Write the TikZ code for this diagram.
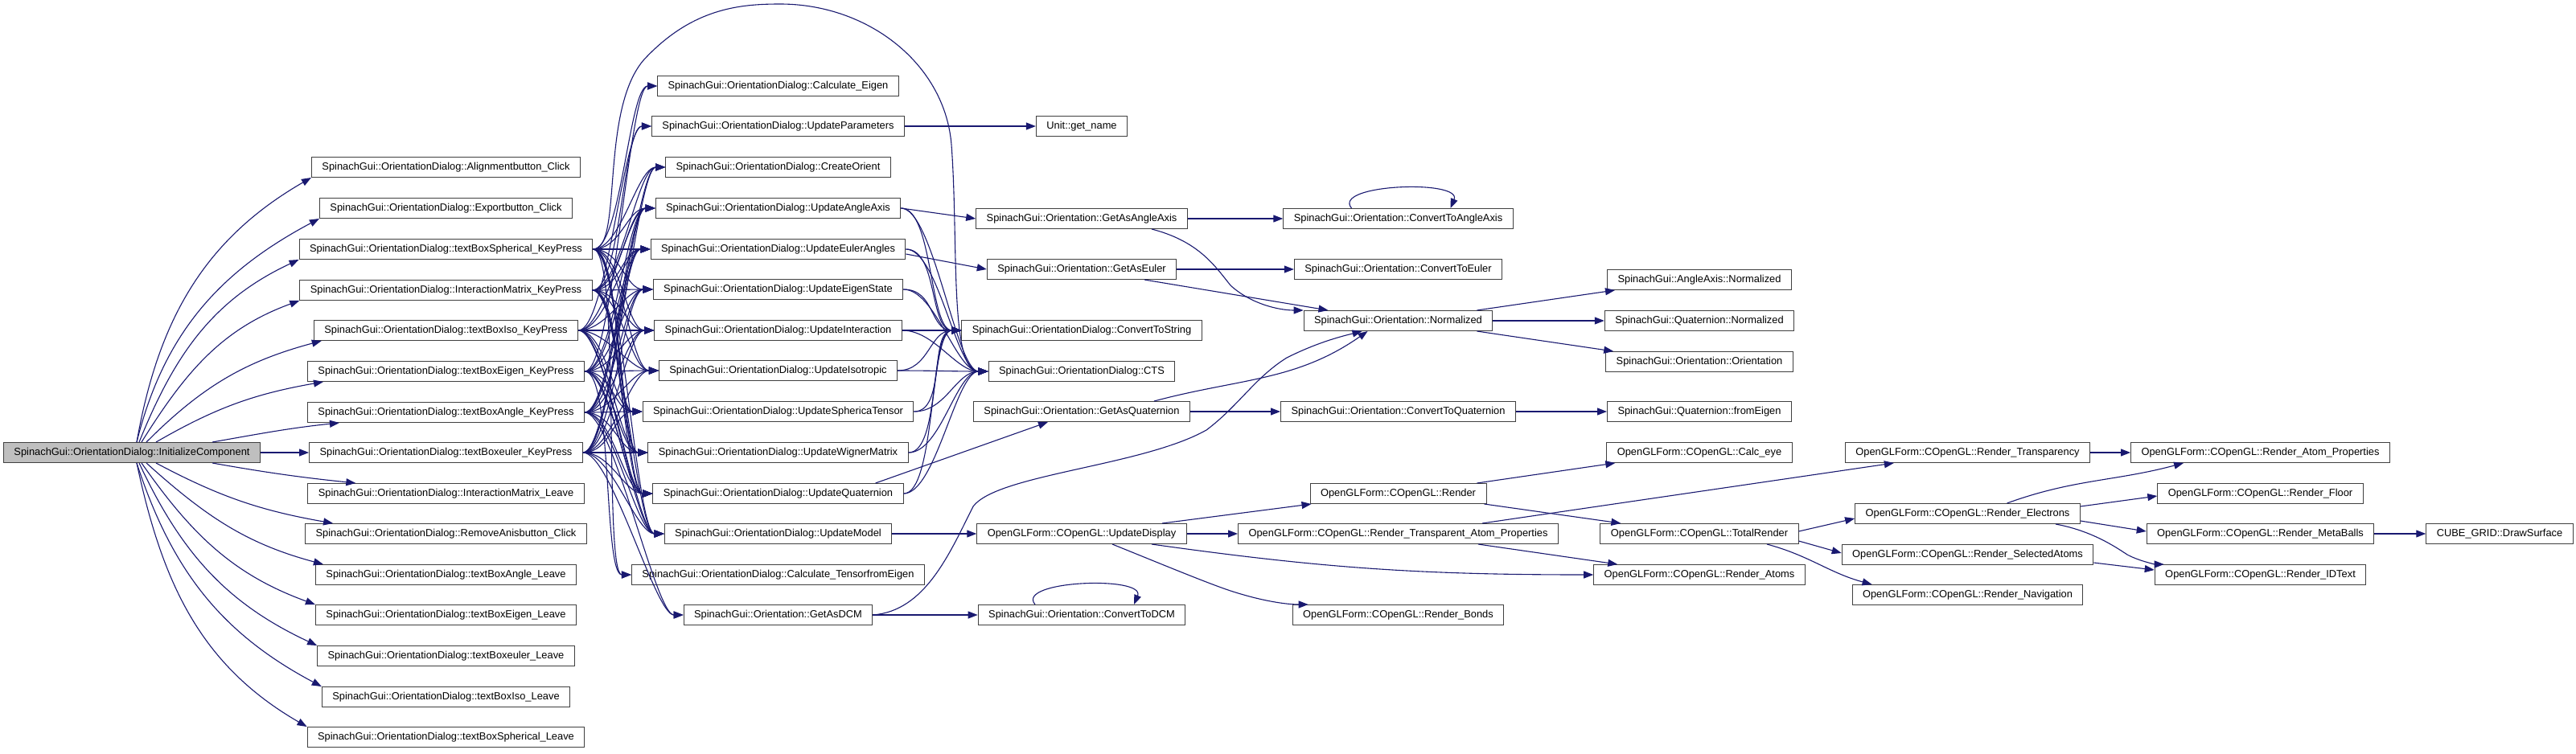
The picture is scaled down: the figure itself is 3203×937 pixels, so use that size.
\documentclass[tikz,border=0pt]{standalone}
\usepackage{fontspec}
\setmainfont{Liberation Sans}
\usepackage{tikz}
\usetikzlibrary{shapes,arrows,arrows.meta,positioning,calc}
\definecolor{edgeblue}{HTML}{191970}
\definecolor{rootgray}{HTML}{BFBFBF}

\begin{document}
\begin{tikzpicture}[x=1pt,y=1pt,
  fn/.style={draw=black!75, line width=1pt, fill=white, minimum height=25pt, inner xsep=13pt, inner ysep=0pt, font=\fontsize{12.86}{14}\selectfont},
  rootfn/.style={fn, fill=rootgray},
  call/.style={draw=edgeblue, line width=1.1pt, -{Triangle[length=12pt,width=9pt]}},
  ]
\useasboundingbox (0,0) rectangle (3203,-937);

\node[rootfn] (root) at (164,-563) {SpinachGui::OrientationDialog::InitializeComponent};

\node[fn] (alignClick) at (554.5,-208) {SpinachGui::OrientationDialog::Alignmentbutton\_Click};
\node[fn] (exportClick) at (554.5,-259) {SpinachGui::OrientationDialog::Exportbutton\_Click};
\node[fn] (spherKP) at (554.5,-310) {SpinachGui::OrientationDialog::textBoxSpherical\_KeyPress};
\node[fn] (imKP) at (554.5,-361) {SpinachGui::OrientationDialog::InteractionMatrix\_KeyPress};
\node[fn] (isoKP) at (554.5,-411) {SpinachGui::OrientationDialog::textBoxIso\_KeyPress};
\node[fn] (eigenKP) at (554.5,-462) {SpinachGui::OrientationDialog::textBoxEigen\_KeyPress};
\node[fn] (angleKP) at (554.5,-513) {SpinachGui::OrientationDialog::textBoxAngle\_KeyPress};
\node[fn] (eulerKP) at (554.5,-563) {SpinachGui::OrientationDialog::textBoxeuler\_KeyPress};
\node[fn] (imLeave) at (554.5,-614) {SpinachGui::OrientationDialog::InteractionMatrix\_Leave};
\node[fn] (removeClick) at (554.5,-664) {SpinachGui::OrientationDialog::RemoveAnisbutton\_Click};
\node[fn] (angleLeave) at (554.5,-715) {SpinachGui::OrientationDialog::textBoxAngle\_Leave};
\node[fn] (eigenLeave) at (554.5,-765) {SpinachGui::OrientationDialog::textBoxEigen\_Leave};
\node[fn] (eulerLeave) at (554.5,-816) {SpinachGui::OrientationDialog::textBoxeuler\_Leave};
\node[fn] (isoLeave) at (554.5,-867) {SpinachGui::OrientationDialog::textBoxIso\_Leave};
\node[fn] (spherLeave) at (554.5,-917) {SpinachGui::OrientationDialog::textBoxSpherical\_Leave};

\node[fn] (calcEigen) at (967.5,-107) {SpinachGui::OrientationDialog::Calculate\_Eigen};
\node[fn] (updParams) at (967.5,-157) {SpinachGui::OrientationDialog::UpdateParameters};
\node[fn] (createOrient) at (967.5,-208) {SpinachGui::OrientationDialog::CreateOrient};
\node[fn] (updAngleAxis) at (967.5,-259) {SpinachGui::OrientationDialog::UpdateAngleAxis};
\node[fn] (updEuler) at (967.5,-310) {SpinachGui::OrientationDialog::UpdateEulerAngles};
\node[fn] (updEigenState) at (967.5,-360) {SpinachGui::OrientationDialog::UpdateEigenState};
\node[fn] (updInteraction) at (967.5,-411) {SpinachGui::OrientationDialog::UpdateInteraction};
\node[fn] (updIso) at (967.5,-461) {SpinachGui::OrientationDialog::UpdateIsotropic};
\node[fn] (updSpher) at (967.5,-512) {SpinachGui::OrientationDialog::UpdateSphericaTensor};
\node[fn] (updWigner) at (967.5,-563) {SpinachGui::OrientationDialog::UpdateWignerMatrix};
\node[fn] (updQuat) at (967.5,-614) {SpinachGui::OrientationDialog::UpdateQuaternion};
\node[fn] (updModel) at (967.5,-664) {SpinachGui::OrientationDialog::UpdateModel};
\node[fn] (calcTensor) at (967.5,-715) {SpinachGui::OrientationDialog::Calculate\_TensorfromEigen};
\node[fn] (getDCM) at (967.5,-765) {SpinachGui::Orientation::GetAsDCM};

\node[fn] (getName) at (1345,-157) {Unit::get\_name};
\node[fn] (getAngleAxis) at (1345,-272) {SpinachGui::Orientation::GetAsAngleAxis};
\node[fn] (getEuler) at (1345,-335) {SpinachGui::Orientation::GetAsEuler};
\node[fn] (convString) at (1345,-411) {SpinachGui::OrientationDialog::ConvertToString};
\node[fn] (cts) at (1345,-462) {SpinachGui::OrientationDialog::CTS};
\node[fn] (getQuat) at (1345,-512) {SpinachGui::Orientation::GetAsQuaternion};
\node[fn] (updDisplay) at (1345,-664) {OpenGLForm::COpenGL::UpdateDisplay};
\node[fn] (convDCM) at (1345,-765) {SpinachGui::Orientation::ConvertToDCM};

\node[fn] (convAngleAxis) at (1738.5,-272) {SpinachGui::Orientation::ConvertToAngleAxis};
\node[fn] (convEuler) at (1738.5,-335) {SpinachGui::Orientation::ConvertToEuler};
\node[fn] (normalized) at (1738.5,-399) {SpinachGui::Orientation::Normalized};
\node[fn] (convQuat) at (1738.5,-512) {SpinachGui::Orientation::ConvertToQuaternion};
\node[fn] (render) at (1738.5,-614) {OpenGLForm::COpenGL::Render};
\node[fn] (renderTAP) at (1738.5,-664) {OpenGLForm::COpenGL::Render\_Transparent\_Atom\_Properties};
\node[fn] (renderBonds) at (1738.5,-765) {OpenGLForm::COpenGL::Render\_Bonds};

\node[fn] (aaNorm) at (2113,-348) {SpinachGui::AngleAxis::Normalized};
\node[fn] (qNorm) at (2113,-399) {SpinachGui::Quaternion::Normalized};
\node[fn] (orientCtor) at (2113,-450) {SpinachGui::Orientation::Orientation};
\node[fn] (fromEigen) at (2113,-512) {SpinachGui::Quaternion::fromEigen};
\node[fn] (calcEye) at (2113,-563) {OpenGLForm::COpenGL::Calc\_eye};
\node[fn] (totalRender) at (2113,-664) {OpenGLForm::COpenGL::TotalRender};
\node[fn] (renderAtoms) at (2113,-715) {OpenGLForm::COpenGL::Render\_Atoms};

\node[fn] (renderTransp) at (2446.5,-563) {OpenGLForm::COpenGL::Render\_Transparency};
\node[fn] (renderElec) at (2446.5,-639) {OpenGLForm::COpenGL::Render\_Electrons};
\node[fn] (renderSel) at (2446.5,-690) {OpenGLForm::COpenGL::Render\_SelectedAtoms};
\node[fn] (renderNav) at (2446.5,-740) {OpenGLForm::COpenGL::Render\_Navigation};

\node[fn] (renderAtomProps) at (2810.5,-563) {OpenGLForm::COpenGL::Render\_Atom\_Properties};
\node[fn] (renderFloor) at (2810.5,-614) {OpenGLForm::COpenGL::Render\_Floor};
\node[fn] (renderMeta) at (2810.5,-664) {OpenGLForm::COpenGL::Render\_MetaBalls};
\node[fn] (renderIDText) at (2810.5,-715) {OpenGLForm::COpenGL::Render\_IDText};

\node[fn] (drawSurface) at (3108,-664) {CUBE\_GRID::DrawSurface};

% root fan
\foreach \t/\xs/\o/\i/\ex in {alignClick/6/80/210/0, exportClick/6/76/208/0, spherKP/9/68/205/0, imKP/12/58/200/0, isoKP/18/45/195/10, eigenKP/30/30/190/20, angleKP/100/10/186/40}
  \draw[call] ([xshift=\xs pt]root.north) to[out=\o,in=\i] ([xshift=\ex pt]\t.south west);
\foreach \t/\xs/\o/\i/\ex in {imLeave/100/-10/174/60, removeClick/30/-28/170/35, angleLeave/18/-42/165/10, eigenLeave/12/-55/160/0, eulerLeave/9/-65/155/0, isoLeave/6/-72/152/0, spherLeave/6/-78/150/0}
  \draw[call] ([xshift=\xs pt]root.south) to[out=\o,in=\i] ([xshift=\ex pt]\t.north west);
\draw[call] (root) -- (eulerKP);

% key press handlers
\foreach \s in {spherKP,imKP,isoKP,eigenKP,angleKP,eulerKP}
  \foreach \t in {updAngleAxis,updEuler,updEigenState,updInteraction,updIso,updSpher,updWigner,updQuat,updModel}
    \draw[call] (\s.east) to[out=0,in=180,distance=35pt] (\t.west);
\foreach \s/\t in {spherKP/calcEigen, eigenKP/calcEigen, imKP/updParams, isoKP/updParams, spherKP/createOrient, imKP/createOrient, angleKP/createOrient, eulerKP/createOrient, spherKP/calcTensor, eigenKP/calcTensor, angleKP/getDCM, eulerKP/getDCM}
  \draw[call] (\s.east) to[out=0,in=180,distance=35pt] (\t.west);
\draw[call] (spherKP.east) .. controls (775,-310) and (745,-140) .. (800,-75) .. controls (860,-10) and (920,-5) .. (970,-5) .. controls (1080,-5) and (1175,-80) .. (1183,-180) .. controls (1192,-300) and (1180,-462) .. (cts.west);

% dialog updates
\foreach \s in {updAngleAxis,updEuler,updEigenState,updInteraction,updIso,updSpher,updWigner,updQuat}
  \foreach \t in {convString,cts}
    \draw[call] (\s.east) to[out=0,in=180,distance=40pt] (\t.west);
\draw[call] (updParams) -- (getName);
\draw[call] (updAngleAxis.east) -- (getAngleAxis.west);
\draw[call] ([yshift=-6pt]updEuler.east) -- (getEuler.west);
\draw[call] ([xshift=-35pt]updQuat.north east) -- ([xshift=-42pt]getQuat.south);
\draw[call] (updModel) -- (updDisplay);
\draw[call] (getDCM) -- (convDCM);
\draw[call] (getDCM.east) .. controls (1150,-760) and (1180,-690) .. (1210,-630) .. controls (1240,-590) and (1420,-580) .. (1500,-535) .. controls (1540,-505) and (1560,-470) .. (1600,-445) .. controls (1640,-425) and (1670,-418) .. ([xshift=-45pt]normalized.south);

% orientation
\draw[call] (getAngleAxis) -- (convAngleAxis);
\draw[call] ([xshift=87pt]getAngleAxis.south) .. controls (1490,-300) and (1510,-330) .. (1530,-355) .. controls (1555,-378) and (1590,-386) .. (normalized.north west);
\draw[call] (getEuler) -- (convEuler);
\draw[call] ([xshift=78pt]getEuler.south) -- ([xshift=-87pt]normalized.north);
\draw[call] (getQuat) -- (convQuat);
\draw[call] ([xshift=90pt]getQuat.north) to[out=15,in=215] ([xshift=-38pt]normalized.south);
\draw[call] ([xshift=-58pt]convAngleAxis.north) .. controls +(-25,30) and +(15,36) .. ([xshift=65pt]convAngleAxis.north);
\draw[call] ([xshift=-58pt]convDCM.north) .. controls +(-25,30) and +(15,36) .. ([xshift=65pt]convDCM.north);
\draw[call] ([xshift=-20pt]normalized.north east) -- ([xshift=10pt]aaNorm.south west);
\draw[call] (normalized) -- (qNorm);
\draw[call] ([xshift=-20pt]normalized.south east) -- ([xshift=10pt]orientCtor.north west);
\draw[call] (convQuat) -- (fromEigen);

% rendering
\draw[call] ([xshift=100pt]updDisplay.north) -- ([xshift=2pt]render.south west);
\draw[call] (updDisplay) -- (renderTAP);
\draw[call] ([xshift=87pt]updDisplay.south) to[out=-8,in=180] (renderAtoms.west);
\draw[call] ([xshift=38pt]updDisplay.south) .. controls (1440,-700) and (1500,-725) .. (1530,-735) .. controls (1570,-748) and (1600,-752) .. ([xshift=20pt]renderBonds.north west);
\draw[call] ([xshift=-12pt]render.north east) -- ([xshift=11pt]calcEye.south west);
\draw[call] ([xshift=-3pt]render.south east) -- ([xshift=26pt]totalRender.north west);
\draw[call] ([xshift=-95pt]renderTAP.north east) -- ([xshift=61pt]renderTransp.south west);
\draw[call] ([xshift=-100pt]renderTAP.south east) -- ([xshift=30pt]renderAtoms.north west);
\draw[call] ([yshift=3pt]totalRender.east) -- ([yshift=-6pt]renderElec.west);
\draw[call] ([yshift=-9pt]totalRender.east) -- ([yshift=2pt]renderSel.west);
\draw[call] ([xshift=84pt]totalRender.south) to[out=-15,in=165] ([xshift=25pt]renderNav.north west);
\draw[call] (renderTransp) -- (renderAtomProps);
\draw[call] ([xshift=49pt]renderElec.north) to[out=20,in=195] ([xshift=66pt]renderAtomProps.south west);
\draw[call] ([yshift=9pt]renderElec.east) -- ([yshift=-3pt]renderFloor.west);
\draw[call] ([yshift=-9pt]renderElec.east) -- ([yshift=3pt]renderMeta.west);
\draw[call] ([xshift=-31pt]renderElec.south east) .. controls (2600,-660) and (2630,-680) .. (2645,-690) .. controls (2660,-698) and (2680,-702) .. ([xshift=12pt]renderIDText.north west);
\draw[call] ([yshift=-10pt]renderSel.east) -- ([yshift=6pt]renderIDText.west);
\draw[call] (renderMeta) -- (drawSurface);
\end{tikzpicture}
\end{document}
